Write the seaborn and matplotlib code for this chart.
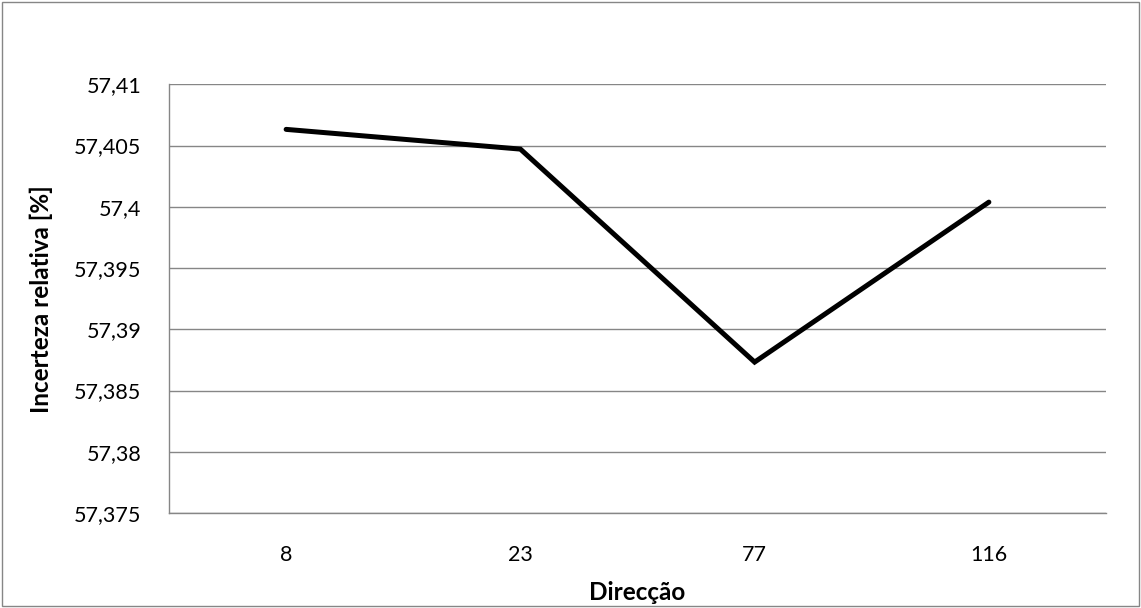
import matplotlib
matplotlib.use("Agg")
import matplotlib.pyplot as plt
from matplotlib.patches import Rectangle
from matplotlib.ticker import FixedLocator, FuncFormatter
import seaborn as sns
import pandas as pd

# Relative uncertainty per direction
direcoes = ["8", "23", "77", "116"]
incerteza = [57.40632, 57.40471, 57.38732, 57.40038]
y_ticks = [57.375, 57.38, 57.385, 57.39, 57.395, 57.4, 57.405, 57.41]

sns.set_theme(style="white")
plt.rcParams["font.family"] = ["Lato", "DejaVu Sans"]

W, H, DPI = 1141, 608, 100
fig = plt.figure(figsize=(W / DPI, H / DPI), dpi=DPI)
fig.patch.set_facecolor("white")

# Chart area border
fig.patches.append(Rectangle((2 / W, 2 / H), (W - 4) / W, (H - 4) / H,
                             transform=fig.transFigure, fill=False,
                             edgecolor="#868686", linewidth=1.0))

left, right, top, bottom = 169, 1106, 84.3, 513
ax = fig.add_axes([left / W, 1 - bottom / H, (right - left) / W, (bottom - top) / H])

df = pd.DataFrame({"Direcção": direcoes, "Incerteza": incerteza})
sns.lineplot(data=df, x="Direcção", y="Incerteza", ax=ax, color="black",
             linewidth=3.6, sort=False, solid_capstyle="round",
             solid_joinstyle="miter")

grid_c = "#868686"
fs = 15.5
fs_label = 17.5
ax.set_xlim(-0.5, len(direcoes) - 0.5)
ax.set_ylim(y_ticks[0], y_ticks[-1])
ax.yaxis.set_major_locator(FixedLocator(y_ticks))
ax.yaxis.set_major_formatter(FuncFormatter(lambda v, p: f"{v:.3f}".rstrip("0").rstrip(".").replace(".", ",")))
ax.grid(axis="y", color=grid_c, linewidth=1.0)
ax.set_axisbelow(True)

ax.set_xticks(range(len(direcoes)))
ax.set_xticklabels(direcoes)
ax.set_xticks([i - 0.5 for i in range(len(direcoes) + 1)], minor=True)
ax.tick_params(axis="x", which="major", length=0, pad=23, labelsize=fs, colors="black")
ax.tick_params(axis="x", which="minor", length=6, width=1.0, color=grid_c, direction="out")
ax.tick_params(axis="y", which="major", length=6.5, width=1.0, color=grid_c,
               direction="out", pad=13.5, labelsize=fs, labelcolor="black")
ax.tick_params(axis="x", colors=grid_c, labelcolor="black")

for side in ["top", "right"]:
    ax.spines[side].set_visible(False)
for side in ["left", "bottom"]:
    ax.spines[side].set_color(grid_c)
    ax.spines[side].set_linewidth(1.0)

ax.set_xlabel("Direcção", fontsize=fs_label, fontweight="bold", color="black")
ax.set_ylabel("Incerteza relativa [%]", fontsize=fs_label, fontweight="bold", color="black")
ax.xaxis.set_label_coords(0.5, -(592 - bottom) / (bottom - top), transform=ax.transAxes)
ax.xaxis.label.set_va("center")
ax.yaxis.set_label_coords(-(left - 41) / (right - left), 0.5, transform=ax.transAxes)
ax.yaxis.label.set_va("center")

fig.savefig("out.png", dpi=DPI, facecolor="white")
